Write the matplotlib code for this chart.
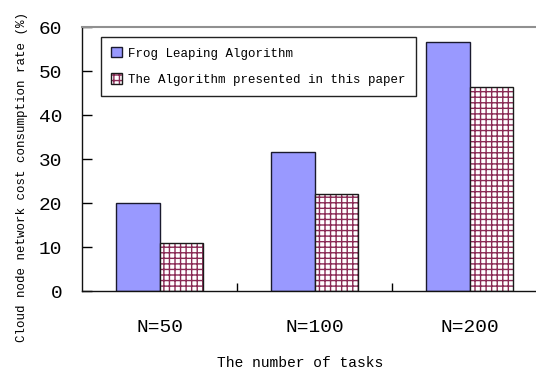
import matplotlib
matplotlib.use("Agg")
import matplotlib.pyplot as plt
import numpy as np

categories = ["N=50", "N=100", "N=200"]
frog = [20.1, 31.7, 56.6]
proposed = [10.8, 22.0, 46.3]
series_names = ["Frog Leaping Algorithm", "The Algorithm presented in this paper"]
yticks = [0, 10, 20, 30, 40, 50, 60]

plt.rcParams['font.family'] = ['Liberation Mono', 'DejaVu Sans Mono']
plt.rcParams['hatch.linewidth'] = 1.0

fig = plt.figure(figsize=(5.36, 3.72), dpi=100)
ax = fig.add_axes([82/536, 81/372, (547-82)/536, (291-27)/372])

x = np.arange(len(categories))
w = 0.278
b1 = ax.bar(x - w/2, frog, w, color='#9999ff', edgecolor='#1a1a2e', linewidth=1.0)
b2h = ax.bar(x + w/2, proposed, w, color='white', edgecolor='#8a2a55', linewidth=0,
             hatch='+++')
b2o = ax.bar(x + w/2, proposed, w, fill=False, edgecolor='#1a1a1a', linewidth=1.0)

ax.set_xlim(-0.5, 2.5)
ax.set_ylim(0, 60)
ax.set_yticks(yticks)
ax.set_xticks(x)
ax.set_xticklabels(categories, fontsize=14)
ax.set_xticks([0.5, 1.5], minor=True)
ax.tick_params(axis='x', which='major', length=0, pad=20)
ax.tick_params(axis='x', which='minor', direction='in', length=6, width=1)
ax.tick_params(axis='y', direction='in', length=7, width=1, labelsize=14, pad=14)

for s in ['left', 'bottom']:
    ax.spines[s].set_color('#111111')
    ax.spines[s].set_linewidth(1.0)
ax.spines['top'].set_color('#909090')
ax.spines['top'].set_linewidth(1.5)
ax.spines['right'].set_visible(False)

ax.set_xlabel("The number of tasks", fontsize=10.5)
ax.xaxis.set_label_coords((300-82)/(547-82), -0.245)
ax.set_ylabel("Cloud node network cost consumption rate (%)", fontsize=9)
ax.yaxis.set_label_coords(-(82-28)/(547-82), 0.43)

leg = ax.legend([b1, (b2h, b2o)], series_names,
                loc='upper left', bbox_to_anchor=(101/536, 1-37/372),
                bbox_transform=fig.transFigure, borderaxespad=0,
                fancybox=False, edgecolor='#222222', framealpha=1,
                fontsize=9, handlelength=0.9, handleheight=0.9,
                handletextpad=0.5, labelspacing=1.1, borderpad=0.8)
leg.get_frame().set_linewidth(1.0)

fig.savefig("out.png", dpi=100)
